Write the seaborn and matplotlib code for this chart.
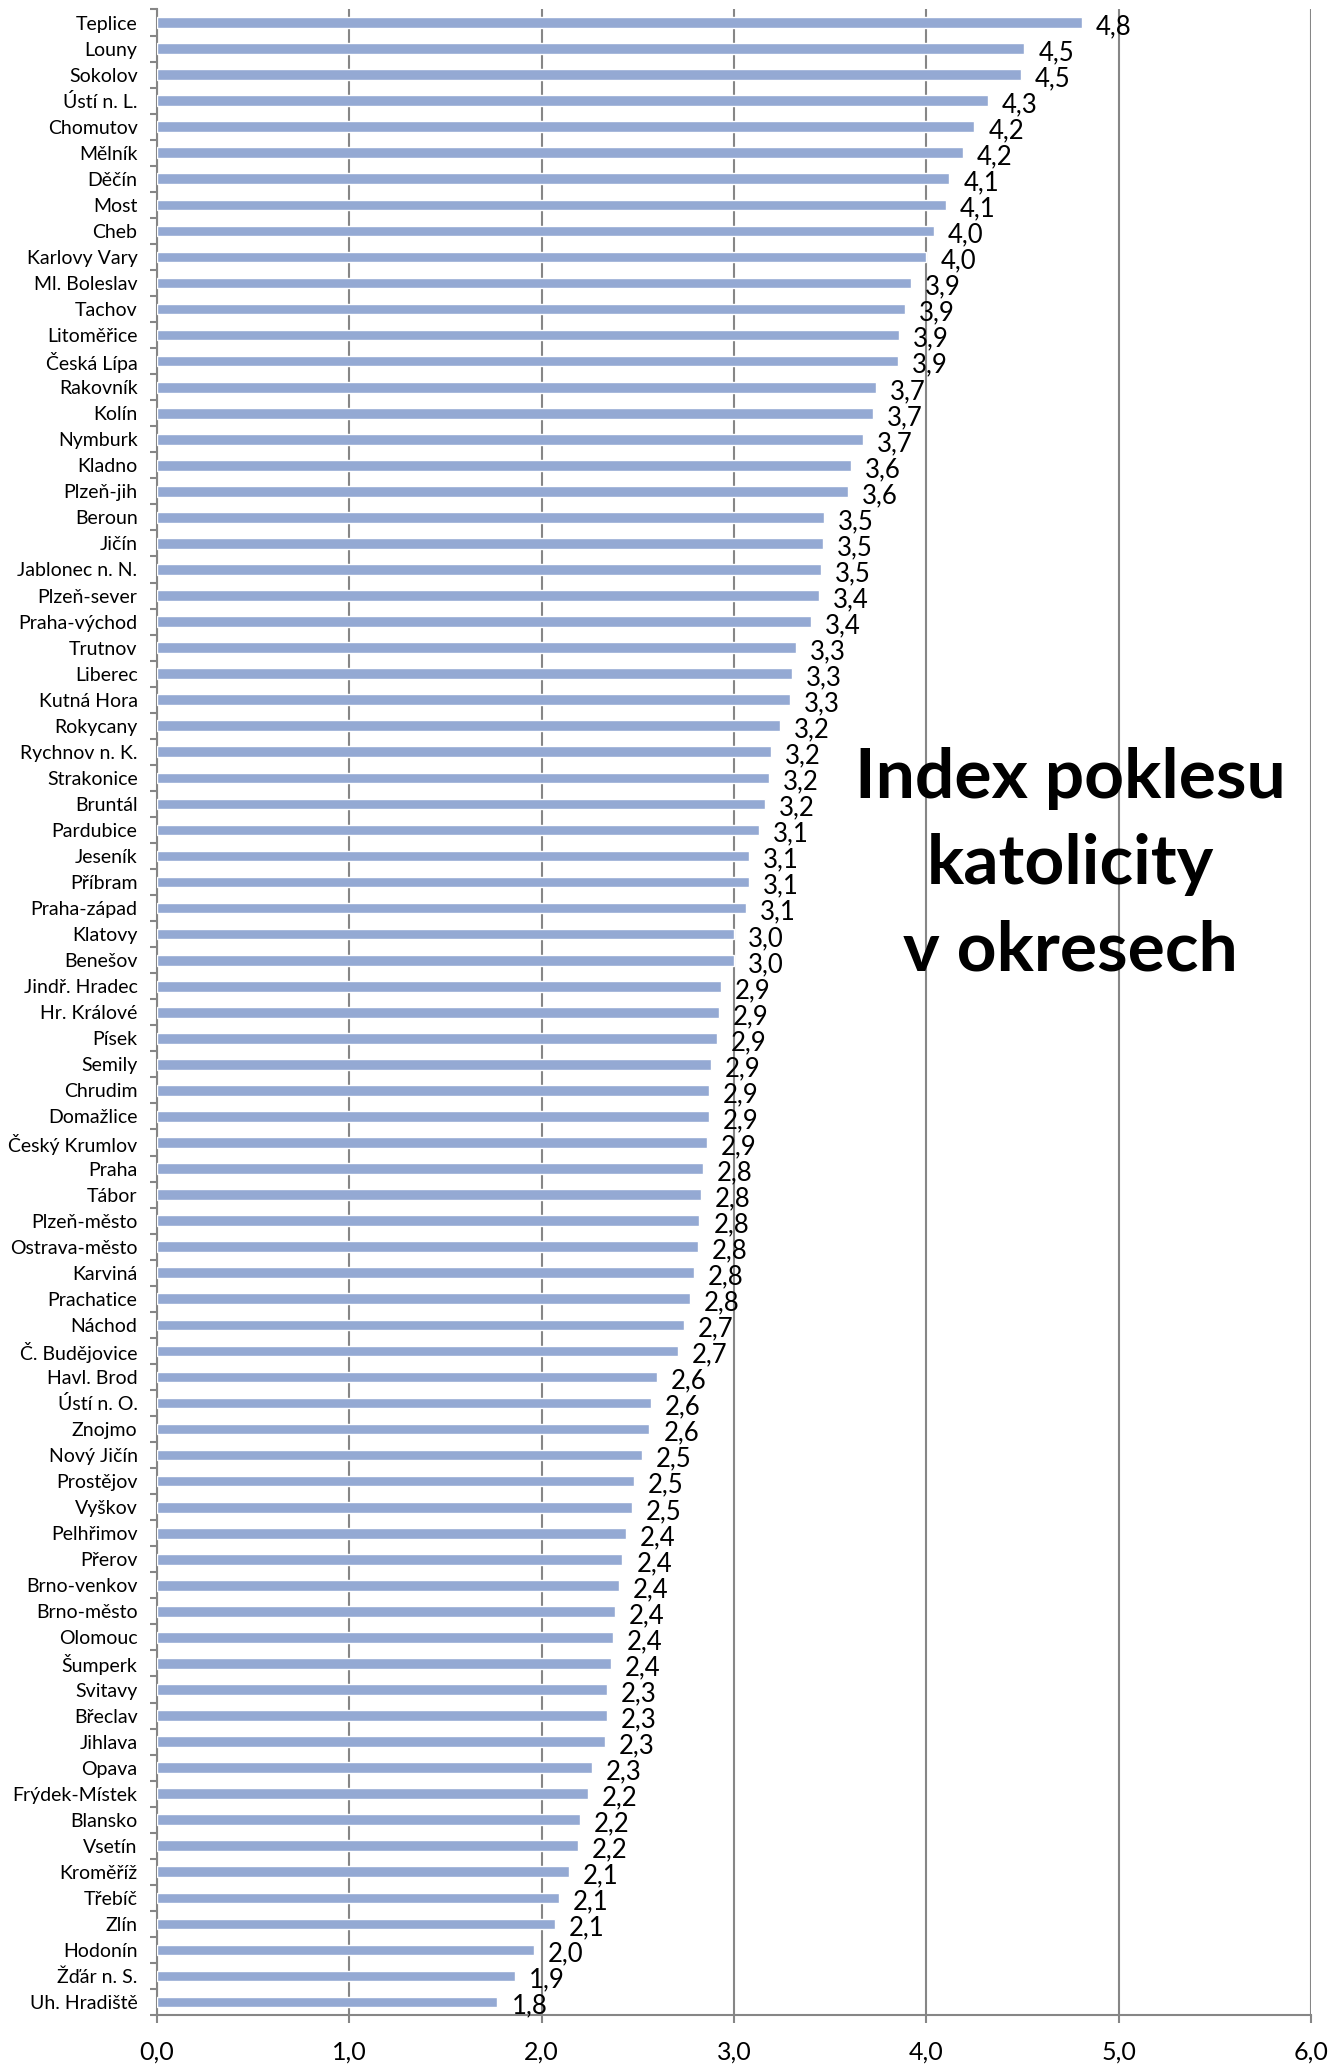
import matplotlib
matplotlib.use("Agg")
import matplotlib.pyplot as plt
import seaborn as sns
import pandas as pd
from matplotlib.ticker import FixedLocator, MultipleLocator, FuncFormatter

districts = [
    "Teplice", "Louny", "Sokolov", "Ústí n. L.", "Chomutov", "Mělník", "Děčín",
    "Most", "Cheb", "Karlovy Vary", "Ml. Boleslav", "Tachov", "Litoměřice",
    "Česká Lípa", "Rakovník", "Kolín", "Nymburk", "Kladno", "Plzeň-jih",
    "Beroun", "Jičín", "Jablonec n. N.", "Plzeň-sever", "Praha-východ",
    "Trutnov", "Liberec", "Kutná Hora", "Rokycany", "Rychnov n. K.",
    "Strakonice", "Bruntál", "Pardubice", "Jeseník", "Příbram", "Praha-západ",
    "Klatovy", "Benešov", "Jindř. Hradec", "Hr. Králové", "Písek", "Semily",
    "Chrudim", "Domažlice", "Český Krumlov", "Praha", "Tábor", "Plzeň-město",
    "Ostrava-město", "Karviná", "Prachatice", "Náchod", "Č. Budějovice",
    "Havl. Brod", "Ústí n. O.", "Znojmo", "Nový Jičín", "Prostějov", "Vyškov",
    "Pelhřimov", "Přerov", "Brno-venkov", "Brno-město", "Olomouc", "Šumperk",
    "Svitavy", "Břeclav", "Jihlava", "Opava", "Frýdek-Místek", "Blansko",
    "Vsetín", "Kroměříž", "Třebíč", "Zlín", "Hodonín", "Žďár n. S.",
    "Uh. Hradiště",
]
index_values = [
    4.81, 4.51, 4.49, 4.32, 4.25, 4.19, 4.12,
    4.10, 4.04, 4.00, 3.92, 3.89, 3.86,
    3.85, 3.74, 3.72, 3.67, 3.61, 3.59,
    3.47, 3.46, 3.45, 3.44, 3.40,
    3.32, 3.30, 3.29, 3.24, 3.19,
    3.18, 3.16, 3.13, 3.08, 3.08, 3.06,
    3.00, 3.00, 2.93, 2.92, 2.91, 2.88,
    2.87, 2.87, 2.86, 2.84, 2.83, 2.82,
    2.81, 2.79, 2.77, 2.74, 2.71,
    2.60, 2.57, 2.56, 2.52, 2.48, 2.47,
    2.44, 2.42, 2.40, 2.38, 2.37, 2.36,
    2.34, 2.34, 2.33, 2.26, 2.24, 2.20,
    2.19, 2.14, 2.09, 2.07, 1.96, 1.86,
    1.77,
]
title_lines = ["Index poklesu", "katolicity", "v okresech"]

df = pd.DataFrame({"okres": districts, "index": index_values})

sns.set_theme(style="white")
plt.rcParams["font.family"] = ["Lato", "DejaVu Sans"]

fig = plt.figure(figsize=(13.31, 20.64), dpi=100)
ax = fig.add_axes([0.118, 0.0237, 0.867, 0.9717])

sns.barplot(data=df, x="index", y="okres", color="#94a9d3", width=0.41,
            saturation=1, ax=ax, zorder=3)

ax.set_xlim(0, 6)
ax.set_ylim(len(districts) - 0.5, -0.5)
ax.xaxis.set_major_locator(MultipleLocator(1))
ax.xaxis.set_major_formatter(FuncFormatter(lambda v, p: f"{v:.1f}".replace(".", ",")))
ax.grid(axis="x", color="#868686", linewidth=1.5, zorder=0)
ax.set_xlabel("")
ax.set_ylabel("")

for side in ["top", "right"]:
    ax.spines[side].set_visible(False)
for side in ["left", "bottom"]:
    ax.spines[side].set_color("#868686")
    ax.spines[side].set_linewidth(1.5)

# category ticks sit between bars, like Excel
ax.yaxis.set_minor_locator(FixedLocator([i - 0.5 for i in range(len(districts) + 1)]))
ax.tick_params(axis="y", which="major", length=0, labelsize=14, pad=14, colors="black")
ax.tick_params(axis="y", which="minor", left=True, length=5, width=1.5, color="#868686")
ax.tick_params(axis="x", which="major", bottom=True, length=6, width=1.5,
               color="#868686", labelsize=18, pad=12, labelcolor="black")

for patch, val in zip(ax.patches, index_values):
    y = patch.get_y() + patch.get_height() / 2
    ax.annotate(f"{val:.1f}".replace(".", ","), xy=(patch.get_width(), y),
                xytext=(10, -3), textcoords="offset points",
                ha="left", va="center", fontsize=18.5, color="black", zorder=4)

ax.text(0.804, 0.581, "\n".join(title_lines), transform=fig.transFigure,
        ha="center", va="center", fontsize=50, fontweight="bold",
        linespacing=1.45, color="black", zorder=5)

fig.savefig("out.png", dpi=100)
